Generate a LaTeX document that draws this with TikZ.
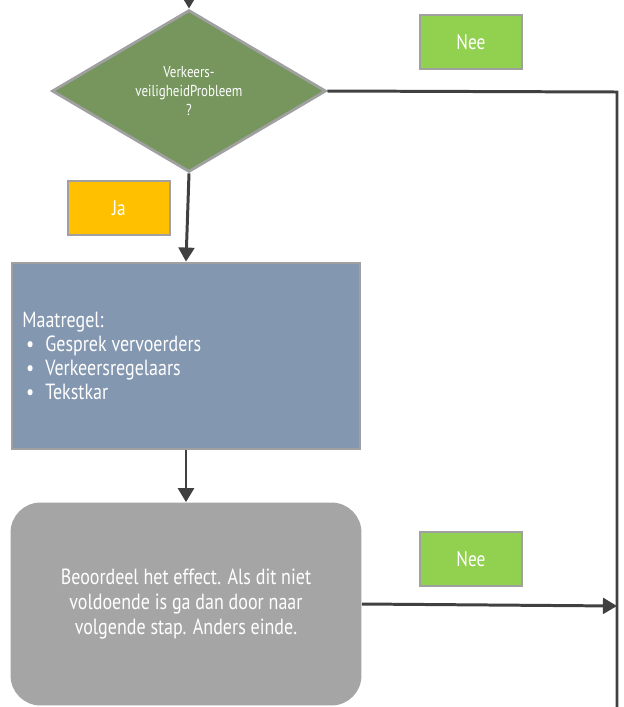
\documentclass[tikz,border=0pt]{standalone}
\usepackage{fontspec}
\setmainfont{PT Sans}[FakeStretch=0.82]
\usetikzlibrary{arrows.meta}
\usetikzlibrary{shapes.geometric}

\definecolor{beslisgroen}{RGB}{118,150,94}
\definecolor{neegroen}{RGB}{146,208,80}
\definecolor{jageel}{RGB}{255,192,0}
\definecolor{maatblauw}{RGB}{132,151,176}
\definecolor{effectgrijs}{RGB}{165,165,165}
\definecolor{randgrijs}{RGB}{160,160,160}
\definecolor{lijngrijs}{RGB}{64,64,64}

\tikzset{
  rand/.style={draw=randgrijs, line width=1.6pt, text=white, inner sep=0pt},
  label box/.style={rand, minimum width=2.04cm, minimum height=1.08cm, font=\fontsize{12}{14}\selectfont},
  lijn/.style={draw=lijngrijs, line width=1.7pt},
  pijl/.style={lijn, -{Triangle[length=8pt,width=9pt]}}
}

\begin{document}
\begin{tikzpicture}[x=0.02cm,y=-0.02cm]
\useasboundingbox (0,0) rectangle (624,707);
% beslissing
\node[rand, diamond, fill=beslisgroen, minimum width=5.48cm, minimum height=3.24cm,
  align=center, font=\fontsize{9}{10.8}\selectfont] (vraag) at (189,91)
  {Verkeers-\\veiligheidProbleem\\?};
\coordinate (start) at (189,0);
\draw[pijl] (start) -- (vraag.north);
% antwoorden
\node[label box, fill=neegroen] (nee1) at (471,42) {Nee};
\node[label box, fill=jageel] (ja) at (119,208) {Ja};
\node[label box, fill=neegroen] (nee2) at (471,559) {Nee};
% maatregel
\node[rand, fill=maatblauw, minimum width=6.96cm, minimum height=3.72cm] (maatregel) at (186,356) {};
\node[text=white, anchor=north west, align=left, inner sep=0pt,
  font=\fontsize{12.5}{13.6}\selectfont] (lijst) at (22,312)
  {Maatregel:\\
   \makebox[0.46cm][l]{\,\textbullet}Gesprek vervoerders\\
   \makebox[0.46cm][l]{\,\textbullet}Verkeersregelaars\\
   \makebox[0.46cm][l]{\,\textbullet}Tekstkar};
% effect
\node[fill=effectgrijs, rounded corners=0.6cm, minimum width=7.02cm, minimum height=4.06cm,
  text=white, align=center, font=\fontsize{12.5}{14.2}\selectfont] (effect) at (186,604)
  {Beoordeel het effect. Als dit niet\\voldoende is ga dan door naar\\volgende stap. Anders einde.};
% verbindingen
\coordinate (hoek) at (617,92);
\coordinate (onder) at (617,707);
\coordinate (inlijn) at (617,606);
\draw[lijn] (vraag.east) -- (hoek) -- (onder);
\draw[pijl] (vraag.south) -- (maatregel.north);
\draw[pijl] (maatregel.south) -- (effect.north);
\draw[pijl] (effect.east) -- (inlijn);
\end{tikzpicture}
\end{document}
